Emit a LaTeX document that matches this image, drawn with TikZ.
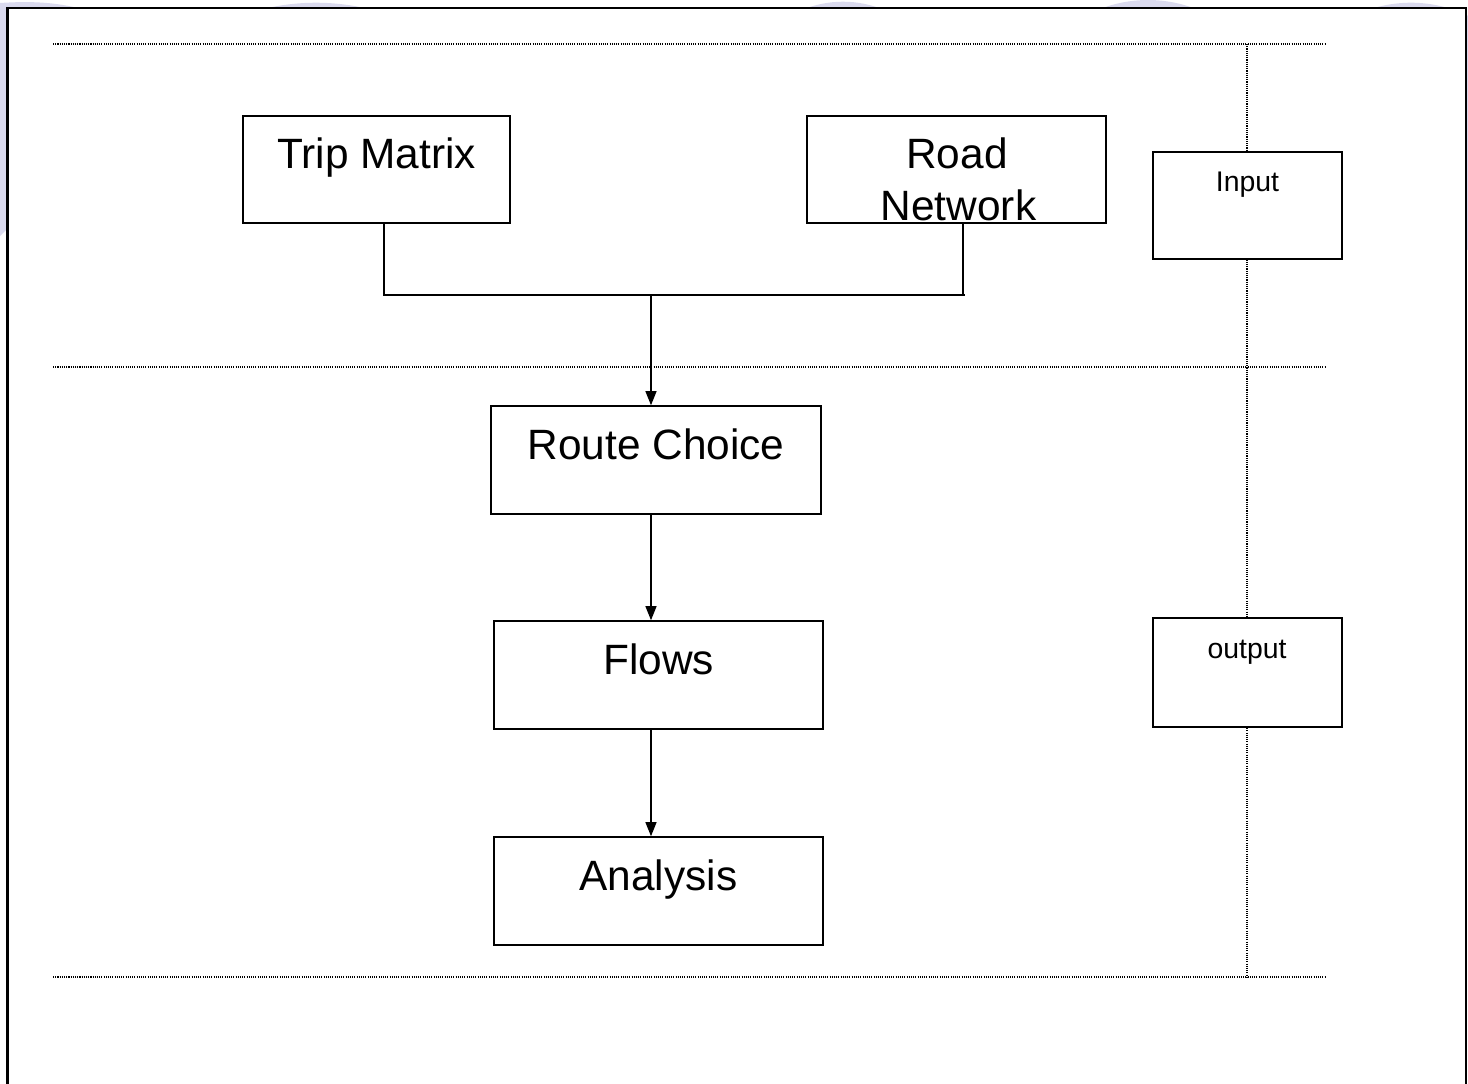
\documentclass[tikz,border=0pt]{standalone}
\usepackage{fontspec}
\setmainfont{Liberation Sans}
\usetikzlibrary{arrows.meta}
\definecolor{lavender}{RGB}{218,218,238}
\begin{document}
\begin{tikzpicture}[x={(0.5pt,0)},y={(0,-0.5pt)},
  frame/.style={draw=black,line width=1.15pt,fill=white},
  sep/.style={draw=black,line width=0.6pt,dash pattern=on 0.55pt off 0.55pt},
  box/.style={draw=black,line width=0.8pt,fill=white,rectangle,inner sep=0pt},
  conn/.style={draw=black,line width=0.6pt},
  arr/.style={conn,-{Triangle[length=7pt,width=5.5pt]}},
  bigtxt/.style={inner sep=0pt,anchor=base,font=\fontsize{21.2pt}{24.5pt}\selectfont},
  smalltxt/.style={inner sep=0pt,anchor=base,font=\fontsize{14.2pt}{16pt}\selectfont}]
\clip (0,0) rectangle (1468,1083);

% decorative background shapes behind the page frame
\fill[lavender] (0,236) -- (0,3) .. controls (30,1) and (55,2) .. (82,9) -- (82,226) -- (10,226) -- cycle;
\fill[lavender] (316,222.7) circle[radius=110pt];
\fill[lavender] (843,107.7) circle[radius=53pt];
\fill[lavender] (1148,132) circle[radius=66pt];
\fill[lavender] (1411,132.7) circle[radius=65pt];

% page frame
\draw[frame] (7.5,7.8) rectangle (1466.3,1095);

% band separators and the side divider
\coordinate (s1l) at (53,44);   \coordinate (s1r) at (1325,44);
\coordinate (s2l) at (53,367);  \coordinate (s2r) at (1325,367);
\coordinate (s3l) at (53,977);  \coordinate (s3r) at (1325,977);
\coordinate (vt) at (1247,44);  \coordinate (vb) at (1247,977);
\draw[sep] (s1l) -- (s1r);
\draw[sep] (s2l) -- (s2r);
\draw[sep] (s3l) -- (s3r);
\draw[sep] (vt) -- (vb);

% process boxes
\node[box,minimum width=133.5pt,minimum height=53.5pt] (trip) at (376.5,169.5) {};
\node[box,minimum width=149.5pt,minimum height=53.5pt] (road) at (956.5,169.5) {};
\node[box,minimum width=165pt,minimum height=54pt] (route) at (656,460) {};
\node[box,minimum width=164.5pt,minimum height=54pt] (flows) at (658.5,675) {};
\node[box,minimum width=164.5pt,minimum height=54pt] (analysis) at (658.5,891) {};
\node[box,minimum width=94.5pt,minimum height=53.5pt] (input) at (1247.5,205.5) {};
\node[box,minimum width=94.5pt,minimum height=54.5pt] (output) at (1247.5,672.5) {};

% box texts
\node[bigtxt] (tripT) at (376.5,168) {Trip Matrix};
\node[bigtxt] (roadT1) at (957,168) {Road};
\node[bigtxt] (roadT2) at (958.5,220) {Network};
\node[bigtxt] (routeT) at (656,459) {Route Choice};
\node[bigtxt] (flowsT) at (658.5,674) {Flows};
\node[bigtxt] (analysisT) at (658.5,890) {Analysis};
\node[smalltxt] (inputT) at (1247.5,191) {Input};
\node[smalltxt] (outputT) at (1247,658) {output};

% connectors
\coordinate (jl) at (384,295);
\coordinate (jr) at (963,295);
\coordinate (je) at (965,295);
\coordinate (jm) at (651,295);
\draw[conn] (trip.south -| jl) -- (jl) -- (je);
\draw[conn] (road.south -| jr) -- (jr);
\draw[arr] (jm) -- (route.north -| jm);
\draw[arr] (route.south -| jm) -- (flows.north -| jm);
\draw[arr] (flows.south -| jm) -- (analysis.north -| jm);
\end{tikzpicture}
\end{document}
